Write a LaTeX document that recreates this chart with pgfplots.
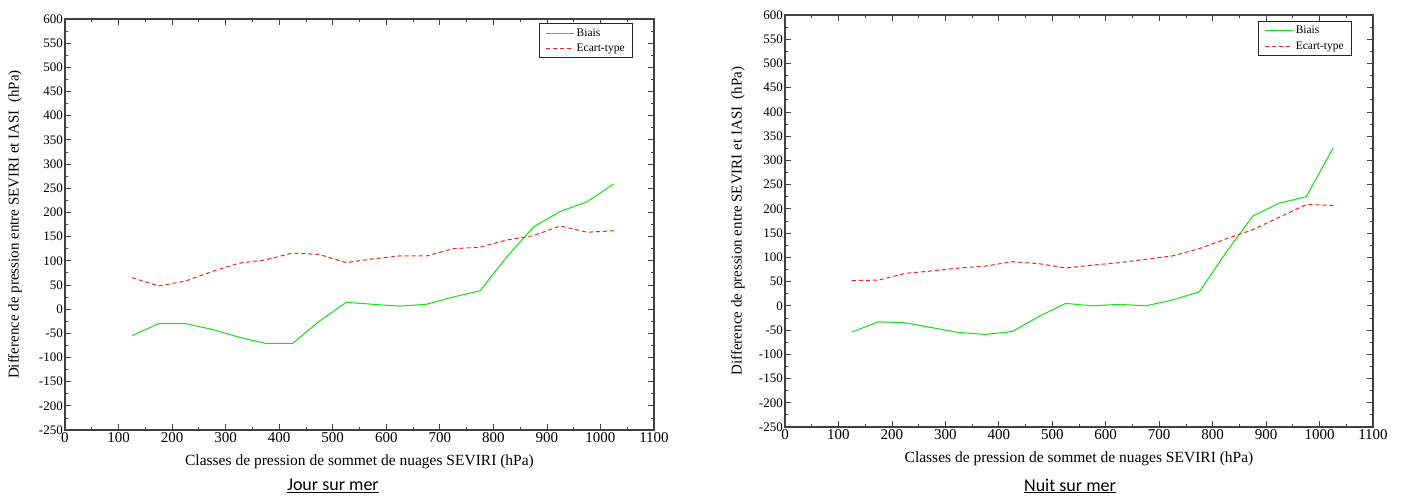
\documentclass[border=0pt]{standalone}
\usepackage{pgfplots}
\pgfplotsset{compat=1.18}
\usepackage{fontspec}
\setmainfont{Liberation Serif}
\newfontfamily\calibri{Carlito}
\definecolor{biais}{RGB}{20,225,20}
\definecolor{ecart}{RGB}{255,30,30}
\pgfplotsset{legend image code/.code={\draw[mark repeat=2,mark phase=2,#1] plot coordinates {(0pt,0pt) (14pt,0pt) (28pt,0pt)};}}
\begin{document}
\begin{tikzpicture}
\useasboundingbox (0,0) rectangle (1405pt,498pt);
\matrix at (720pt,490pt) {\draw[white, line width=0.1pt] (0pt,0pt) -- (0.1pt,0pt); \\};
\pgfplotsset{
 mystyle/.style={
  scale only axis, width=589pt, height=411pt,
  xmin=0,xmax=1100,ymin=-250,ymax=600,
  xtick={0,100,...,1100}, ytick={-250,-200,...,600},
  minor x tick num=1, minor y tick num=1,
  tick align=inside, major tick length=6pt, minor tick length=3pt,
  axis line style={black!75, line width=1.2pt},
  every tick/.style={black!75, line width=0.8pt},
  /pgf/number format/assume math mode=true,
  /pgf/number format/1000 sep={},
  xticklabel style={font=\rmfamily\fontsize{15}{15}\selectfont, inner sep=2pt},
  yticklabel style={font=\rmfamily\fontsize{13}{13}\selectfont, inner sep=2pt},
  every axis x label/.style={at={(axis description cs:0.5,0)}, anchor=center, yshift=-32pt, font=\rmfamily\fontsize{15.5}{15.5}\selectfont},
  xlabel={Classes de pression de sommet de nuages SEVIRI (hPa)},
  ylabel={Difference de pression entre SEVIRI et IASI\ \ (hPa)},
  legend style={font=\rmfamily\fontsize{11.5}{13}\selectfont, draw=none, fill=white, anchor=north east, inner xsep=6pt, inner ysep=3pt, row sep=2pt},
  legend cell align=left,
 }
}
\begin{axis}[mystyle, at={(65pt,68pt)}, anchor=south west,
  every axis y label/.style={at={(axis description cs:-0.085,0.5)}, rotate=90, anchor=center, font=\rmfamily\fontsize{15}{15}\selectfont},
  legend style={at={(axis description cs:0.964,0.9895)}, name=legA}]
\addplot[color=biais, line width=1pt] coordinates {
(125,-55) (175,-30) (225,-30) (275,-42) (325,-58) (375,-71) (425,-71) (475,-25) (525,14) (575,10) (625,6) (675,10) (725,25) (775,38) (825,108) (875,170) (925,202) (975,222) (1025,259)};
\addlegendentry{Biais}
\addplot[color=ecart, line width=1pt, dash pattern=on 4pt off 3pt] coordinates {
(125,65) (175,48) (225,58) (275,78) (325,95) (375,102) (425,116) (475,113) (525,96) (575,104) (625,110) (675,110) (725,125) (775,128) (825,143) (875,152) (925,172) (975,159) (1025,162)};
\addlegendentry{Ecart-type}
\end{axis}
\draw[black!85, line width=0.9pt] (legA.north west) rectangle (legA.south east);
\begin{axis}[mystyle, at={(785pt,71pt)}, anchor=south west, width=588pt, height=412pt,
  every axis y label/.style={at={(axis description cs:-0.080,0.5)}, rotate=90, anchor=center, font=\rmfamily\fontsize{15}{15}\selectfont},
  legend style={at={(axis description cs:0.964,0.985)}, name=legB}]
\addplot[color=biais, line width=1pt] coordinates {
(125,-54) (175,-33) (225,-35) (275,-45) (325,-55) (375,-59) (425,-53) (475,-22) (525,5) (575,0) (625,3) (675,0) (725,12) (775,29) (825,110) (875,185) (925,212) (975,225) (1025,325)};
\addlegendentry{Biais}
\addplot[color=ecart, line width=1pt, dash pattern=on 4pt off 3pt] coordinates {
(125,52) (175,53) (225,67) (275,72) (325,78) (375,82) (425,91) (475,87) (525,78) (575,84) (625,89) (675,96) (725,103) (775,118) (825,138) (875,157) (925,183) (975,209) (1025,207)};
\addlegendentry{Ecart-type}
\end{axis}
\draw[black!85, line width=0.9pt] (legB.north west) rectangle (legB.south east);
\node[font=\calibri\fontsize{18}{18}\selectfont] at (333pt,12pt) {\underline{Jour sur mer}};
\node[font=\calibri\fontsize{18}{18}\selectfont] at (1070pt,12pt) {\underline{Nuit sur mer}};
\end{tikzpicture}
\end{document}
